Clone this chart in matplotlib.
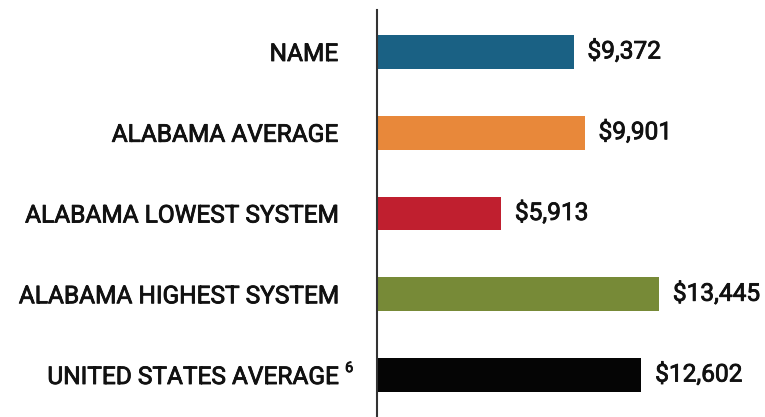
import matplotlib.pyplot as plt
from matplotlib import transforms
import matplotlib.patheffects as pe

# data
categories = ["NAME", "ALABAMA AVERAGE", "ALABAMA LOWEST SYSTEM",
              "ALABAMA HIGHEST SYSTEM", "UNITED STATES AVERAGE"]
values = [9372, 9901, 5913, 13445, 12602]
colors = ["#1a6184", "#e8883a", "#c01f2f", "#778a37", "#050505"]
footnote = "6"   # superscript on the last label

plt.rcParams["font.family"] = ["Roboto", "DejaVu Sans"]
TXT = "#111111"
FS = 17.6
# roboto regular + thin stroke, looks like the medium weight
thick = [pe.withStroke(linewidth=0.6, foreground=TXT)]

fig = plt.figure(figsize=(7.65, 4.17), dpi=100)
ax = fig.add_axes([377 / 765, 0, 388 / 765, 407 / 417])

y = list(range(len(categories)))
ax.barh(y, values, height=0.42, color=colors)

ax.set_xlim(0, 18500)
ax.set_ylim(len(categories) - 0.48, -0.52)

for yi, v in zip(y, values):
    ax.annotate(f"${v:,}", xy=(v, yi), xytext=(10, 0), textcoords="offset points",
                va="center", ha="left", fontsize=FS, color=TXT, path_effects=thick)

ax.set_yticks(y)
ax.set_yticklabels(categories, fontsize=FS, color=TXT, path_effects=thick)
ax.tick_params(axis="y", length=0, pad=28)
ax.set_xticks([])

# superscript footnote on the US label
trans = transforms.blended_transform_factory(ax.transAxes, ax.transData)
ax.annotate(footnote, xy=(0, y[-1]), xycoords=trans, xytext=(-23, 5),
            textcoords="offset points", fontsize=10.5, color=TXT,
            ha="left", va="center", path_effects=thick)

for s in ["top", "right", "bottom"]:
    ax.spines[s].set_visible(False)
ax.spines["left"].set_linewidth(1.5)
ax.spines["left"].set_color("#333333")

fig.savefig("out.png", dpi=100)
